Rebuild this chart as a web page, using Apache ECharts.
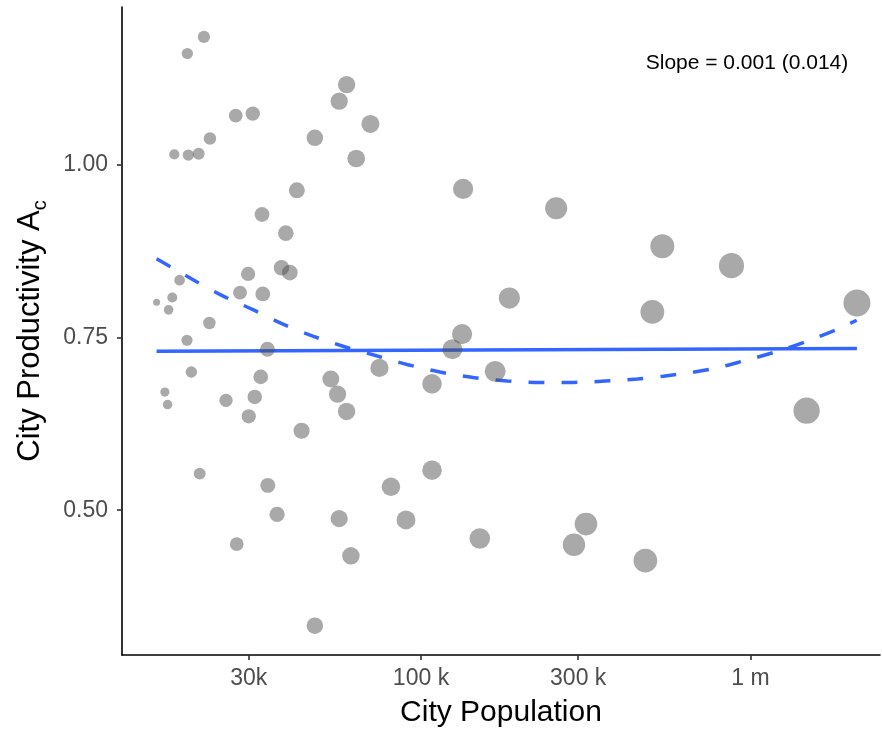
<!DOCTYPE html>
<html>
<head>
<meta charset="utf-8">
<script src="https://cdn.jsdelivr.net/npm/echarts@6/dist/echarts.min.js"></script>
<style>
html,body{margin:0;padding:0;background:#fff;}
#chart{width:882px;height:733px;}
</style>
</head>
<body>
<div id="chart"></div>
<script>
// City population (x) and productivity A_c (y)
var cityPopulation = [
  21940, 19540, 17840, 19670, 21150, 22880, 27400, 30860, 15760, 17140,
  17590, 18510, 19490, 20090, 22790, 16700, 17020, 21300, 27590, 25600,
  28240, 29870, 32930, 33100, 34200, 32630, 31290, 30010, 34280, 36580,
  38880, 37720, 39980, 42000, 43400, 47630, 56460, 59460, 63590, 70230,
  47630, 53260, 55830, 59460, 56460, 61270, 74800, 81060, 90030, 108000,
  108000, 124500, 133260, 134200, 150800, 167900, 185500, 257200, 291200, 316700,
  479700, 503700, 540000, 875500, 1480000, 2104000
];
var cityProductivity = [
  1.185, 1.161, 1.015, 1.014, 1.016, 1.038, 1.071, 1.074, 0.801, 0.790,
  0.808, 0.833, 0.746, 0.700, 0.771, 0.671, 0.653, 0.553, 0.451, 0.659,
  0.815, 0.842, 0.928, 0.813, 0.733, 0.693, 0.664, 0.636, 0.536, 0.494,
  0.901, 0.851, 0.844, 0.963, 0.615, 1.039, 1.092, 1.116, 1.009, 1.059,
  0.333, 0.690, 0.668, 0.643, 0.488, 0.434, 0.706, 0.534, 0.486, 0.683,
  0.558, 0.733, 0.755, 0.965, 0.459, 0.701, 0.807, 0.937, 0.450, 0.480,
  0.427, 0.787, 0.882, 0.854, 0.644, 0.800
];
// Linear fit (solid line) endpoints
var linearFitX = [15760, 2104000];
var linearFitY = [0.730, 0.734];
// Quadratic fit (dashed line)
var quadFitX = [15760, 20280, 24840, 30650, 37800, 46950, 58340, 71460, 90650, 114250,
  143950, 182600, 229990, 289740, 362490, 453500, 543880, 755640, 952200, 1208000,
  1490500, 1838600, 2100000];
var quadFitY = [0.864, 0.834, 0.811, 0.791, 0.770, 0.752, 0.737, 0.725, 0.711, 0.700,
  0.692, 0.687, 0.685, 0.685, 0.687, 0.690, 0.694, 0.704, 0.716, 0.730,
  0.745, 0.762, 0.775];
// Axis ticks
var xTickValues = [30000, 100000, 300000, 1000000];
var xTickLabels = ['30k', '100 k', '300 k', '1 m'];
var yTickValues = [0.50, 0.75, 1.00];
var yTickLabels = ['0.50', '0.75', '1.00'];
var slopeText = 'Slope = 0.001 (0.014)';

var FONT = 'Liberation Sans, Arial, Helvetica, sans-serif';
var lg = function (v) { return Math.log10(v); };

var logPop = cityPopulation.map(lg);
var Lmin = Math.min.apply(null, logPop), Lmax = Math.max.apply(null, logPop);

var points = cityPopulation.map(function (p, i) { return [lg(p), cityProductivity[i]]; });
var linPts = linearFitX.map(function (p, i) { return [lg(p), linearFitY[i]]; });
var quadPts = quadFitX.map(function (p, i) { return [lg(p), quadFitY[i]]; });

function fmtX(v) {
  for (var i = 0; i < xTickValues.length; i++) {
    if (Math.abs(lg(xTickValues[i]) - v) < 1e-6) return xTickLabels[i];
  }
  return '';
}
function fmtY(v) {
  for (var i = 0; i < yTickValues.length; i++) {
    if (Math.abs(yTickValues[i] - v) < 1e-6) return yTickLabels[i];
  }
  return '';
}

var chart = echarts.init(document.getElementById('chart'), null, { renderer: 'canvas' });
chart.setOption({
  animation: false,
  backgroundColor: '#ffffff',
  textStyle: { fontFamily: FONT },
  grid: { left: 122, right: 2, top: 7, bottom: 77, containLabel: false },
  xAxis: {
    type: 'value',
    min: 4.0926, max: 6.393,
    name: 'City Population',
    nameLocation: 'middle',
    nameGap: 43,
    nameTextStyle: { fontSize: 30, color: '#000', fontFamily: FONT },
    axisLine: { show: true, onZero: false, lineStyle: { color: '#000', width: 1.6 } },
    axisTick: { show: true, length: 5, lineStyle: { color: '#333', width: 1.6 }, customValues: xTickValues.map(lg) },
    axisLabel: { show: true, margin: 12, fontSize: 23, color: '#4D4D4D', fontFamily: FONT, customValues: xTickValues.map(lg), formatter: fmtX },
    splitLine: { show: false }
  },
  yAxis: {
    type: 'value',
    min: 0.2905, max: 1.2283,
    name: 'City Productivity A{sub|c}',
    nameLocation: 'middle',
    nameGap: 76,
    nameTextStyle: { fontSize: 31, color: '#000', fontFamily: FONT,
      rich: { sub: { fontSize: 20, color: '#000', fontFamily: FONT, verticalAlign: 'bottom', padding: [0, 0, -4, 0] } } },
    axisLine: { show: true, onZero: false, lineStyle: { color: '#000', width: 1.6 } },
    axisTick: { show: true, length: 5, lineStyle: { color: '#333', width: 1.6 }, customValues: yTickValues },
    axisLabel: { show: true, margin: 14, fontSize: 23, color: '#4D4D4D', fontFamily: FONT, customValues: yTickValues, formatter: fmtY, padding: [3, 0, 0, 0] },
    splitLine: { show: false }
  },
  series: [
    {
      type: 'line', data: linPts, symbol: 'none', z: 2,
      lineStyle: { color: '#3366FF', width: 3.5 }
    },
    {
      type: 'line', data: quadPts, symbol: 'none', smooth: 0.3, z: 2,
      lineStyle: { color: '#3366FF', width: 3.5, type: [16, 17], cap: 'butt' }
    },
    {
      type: 'scatter', data: points, z: 3,
      symbol: 'circle',
      symbolSize: function (v) { return 7 + 20 * Math.sqrt((v[0] - Lmin) / (Lmax - Lmin)); },
      itemStyle: { color: 'rgba(75,75,75,0.6)', borderWidth: 0 }
    }
  ],
  graphic: [
    {
      type: 'text', x: 747, y: 63, z: 10,
      style: { text: slopeText, fontSize: 21, fontFamily: FONT, fill: '#000', align: 'center', verticalAlign: 'middle', textAlign: 'center', textVerticalAlign: 'middle' }
    }
  ]
});
</script>
</body>
</html>
